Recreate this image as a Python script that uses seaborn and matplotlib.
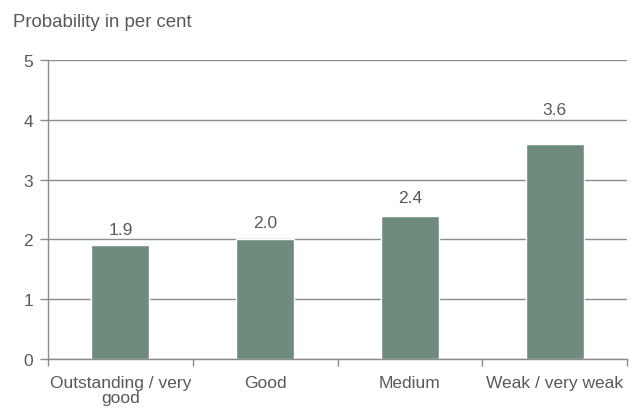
import matplotlib
matplotlib.use("Agg")
import matplotlib.pyplot as plt
from matplotlib.ticker import FixedLocator
import seaborn as sns
import pandas as pd

categories = ["Outstanding / very\ngood", "Good", "Medium", "Weak / very weak"]
probability = [1.9, 2.0, 2.4, 3.6]
y_ticks = [0, 1, 2, 3, 4, 5]

sns.set_theme(style="white")
plt.rcParams["font.family"] = ["Liberation Sans", "DejaVu Sans"]

text_color = "#595959"
line_color = "#8c8c8c"
bar_color = "#6f8b7e"

# vertical gap (points) between each bar top and its value label
label_offsets = [8.0, 8.6, 10.0, 21.6]

df = pd.DataFrame({"category": categories, "value": probability})

fig = plt.figure(figsize=(6.33, 4.10), dpi=100)
ax = fig.add_axes([0.0758, 0.122, 0.915, 0.729])

sns.barplot(data=df, x="category", y="value", order=categories,
            color=bar_color, saturation=1, width=0.4, ax=ax)

ax.set_ylim(0, 5)
ax.set_xlim(-0.5, len(categories) - 0.5)
ax.set_yticks(y_ticks)
ax.yaxis.grid(True, color=line_color, linewidth=1.0)
ax.set_axisbelow(True)

for side in ["top", "right"]:
    ax.spines[side].set_visible(False)
for side in ["left", "bottom"]:
    ax.spines[side].set_color(line_color)
    ax.spines[side].set_linewidth(1.0)

ax.set_xlabel("")
ax.set_ylabel("")
ax.tick_params(axis="y", which="major", left=True, length=5.8, width=1,
               color=line_color, labelcolor=text_color, labelsize=12.5, pad=5)
ax.tick_params(axis="x", which="major", bottom=False, length=0,
               labelcolor=text_color, labelsize=12.5, pad=11.5)
ax.xaxis.set_minor_locator(FixedLocator([i - 0.5 for i in range(len(categories) + 1)]))
ax.tick_params(axis="x", which="minor", bottom=True, length=5, width=1,
               color=line_color)
for lbl in ax.get_xticklabels():
    lbl.set_linespacing(1.0)

for i, (v, off) in enumerate(zip(probability, label_offsets)):
    ax.annotate(f"{v:.1f}", (i, v), xytext=(0, off), textcoords="offset points",
                ha="center", va="baseline", color=text_color, fontsize=12.5)

fig.text(12.7 / 633, 0.933, "Probability in per cent", color=text_color,
         fontsize=13.4, ha="left", va="baseline")

fig.savefig("out.png", dpi=100)
